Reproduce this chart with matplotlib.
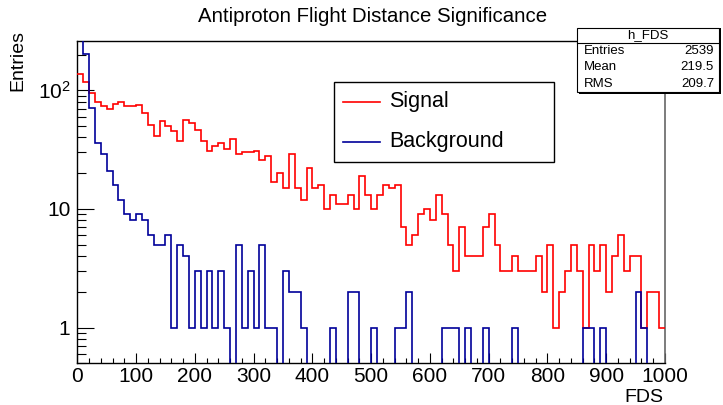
import numpy as np
import matplotlib.pyplot as plt
from matplotlib.patches import Rectangle
from matplotlib.lines import Line2D
from matplotlib.ticker import FixedLocator, FixedFormatter, MultipleLocator, LogLocator, NullFormatter

plt.rcParams['font.family'] = ['Liberation Sans', 'DejaVu Sans']
plt.rcParams['mathtext.fontset'] = 'custom'
plt.rcParams['mathtext.rm'] = 'Liberation Sans'
plt.rcParams['mathtext.it'] = 'Liberation Sans:italic'

# histogram contents, 100 bins of width 10 from 0 to 1000
BIN_EDGES = np.arange(0, 1001, 10)
SIGNAL = [
    136, 117, 94, 80, 74, 70, 76, 79, 73, 74,
    75, 64, 51, 41, 55, 50, 45, 37, 56, 53,
    46, 37, 31, 34, 36, 32, 39, 29, 30, 30,
    31, 26, 28, 17, 20, 15, 29, 15, 12, 22,
    15, 16, 10, 13, 11, 11, 13, 10, 19, 13,
    10, 13, 16, 15, 16, 7, 5, 6, 9, 10,
    8, 13, 9, 5, 3, 7, 4, 4, 4, 7,
    9, 5, 3, 3, 4, 3, 3, 3, 4, 2,
    5, 1, 2, 3, 5, 3, 1, 5, 3, 5,
    2, 4, 6, 3, 4, 4, 1, 2, 2, 1,
]
BACKGROUND = [
    330, 202, 71, 36, 29, 21, 16, 12, 9, 8,
    9, 8, 6, 5, 5, 6, 1, 5, 4, 1,
    3, 1, 3, 1, 3, 1, 0, 5, 1, 3,
    1, 5, 1, 1, 0, 3, 2, 2, 1, 0,
    0, 0, 0, 1, 0, 0, 2, 2, 0, 0,
    1, 0, 0, 0, 1, 1, 2, 0, 0, 0,
    0, 0, 1, 1, 1, 0, 1, 0, 0, 1,
    0, 0, 0, 0, 1, 0, 0, 0, 0, 0,
    0, 0, 0, 0, 0, 0, 1, 1, 0, 1,
    0, 0, 0, 0, 0, 2, 1, 0, 0, 0,
]
SERIES_NAMES = ["Signal", "Background"]
Y_TICKS = [1, 10, 100]
Y_TICK_LABELS = ["1", "10", r"$10^{2}$"]
STATS_NAME = "h_FDS"
STATS_ROWS = [("Entries", "2539"), ("Mean", "219.5"), ("RMS", "209.7")]

RED = "#ff0000"
BLUE = "#000099"

W, H = 723, 405


def fx(px):
    return px / W


def fy(py):
    return 1 - py / H


fig = plt.figure(figsize=(W / 100, H / 100), dpi=100)
ax = fig.add_axes([fx(77.3), fy(363.3), (665 - 77.3) / W, (363.3 - 41) / H])

ax.stairs(SIGNAL, BIN_EDGES, baseline=None, color=RED, linewidth=1.2, zorder=3)
ax.stairs(BACKGROUND, BIN_EDGES, baseline=None, color=BLUE, linewidth=1.2, zorder=3)

ax.set_yscale("log")
ax.set_xlim(0, 1000)
ax.set_ylim(0.5, 260)

ax.xaxis.set_major_locator(MultipleLocator(100))
ax.xaxis.set_minor_locator(MultipleLocator(20))
ax.yaxis.set_major_locator(FixedLocator(Y_TICKS))
ax.yaxis.set_major_formatter(FixedFormatter(Y_TICK_LABELS))
ax.yaxis.set_minor_locator(LogLocator(base=10, subs=np.arange(2, 10)))
ax.yaxis.set_minor_formatter(NullFormatter())

ax.tick_params(axis="both", which="both", direction="in", width=0.8, labelsize=15, color="black")
ax.tick_params(axis="x", which="major", length=7.2, pad=3)
ax.tick_params(axis="x", which="minor", length=3.6)
ax.tick_params(axis="y", which="major", length=12.5, pad=5)
ax.tick_params(axis="y", which="minor", length=6.3)

for side in ["left", "bottom", "top"]:
    ax.spines[side].set_linewidth(1.0)
ax.spines["right"].set_color("#666666")
ax.spines["right"].set_linewidth(1.2)

# title and axis labels placed like ROOT does
fig.text(fx(372.5), fy(17), "Antiproton Flight Distance Significance",
         ha="center", va="center", fontsize=14.7)
fig.text(fx(663), fy(398), "FDS", ha="right", va="center", fontsize=14)
fig.text(fx(18), fy(30), "Entries", ha="center", va="top", rotation=90, fontsize=14)

# legend box
fig.patches.append(Rectangle((fx(334), fy(162)), (554 - 334) / W, (162 - 81.5) / H,
                             transform=fig.transFigure, facecolor="white",
                             edgecolor="black", linewidth=1.0, zorder=5))
for name, color, py in zip(SERIES_NAMES, [RED, BLUE], [101.5, 142]):
    fig.lines.append(Line2D([fx(343), fx(380)], [fy(py), fy(py)], color=color,
                            linewidth=1.2, transform=fig.transFigure, zorder=6))
    fig.text(fx(389), fy(py), name, ha="left", va="center", fontsize=15.5, zorder=6)

# stats box
fig.patches.append(Rectangle((fx(579), fy(94)), (719 - 577) / W, (94 - 28) / H,
                             transform=fig.transFigure, facecolor="black",
                             edgecolor="none", zorder=6))
fig.patches.append(Rectangle((fx(577), fy(92)), (719 - 577) / W, (92 - 28) / H,
                             transform=fig.transFigure, facecolor="white",
                             edgecolor="black", linewidth=0.8, zorder=7))
fig.lines.append(Line2D([fx(577), fx(719)], [fy(43), fy(43)], color="black",
                        linewidth=0.8, transform=fig.transFigure, zorder=8))
fig.text(fx(648), fy(35.5), STATS_NAME, ha="center", va="center", fontsize=9.5, zorder=8)
for i, (label, value) in enumerate(STATS_ROWS):
    py = 51 + i * 16.5
    fig.text(fx(584), fy(py), label, ha="left", va="center", fontsize=9.5, zorder=8)
    fig.text(fx(714), fy(py), value, ha="right", va="center", fontsize=9.5, zorder=8)

fig.savefig("out.png", dpi=100)
